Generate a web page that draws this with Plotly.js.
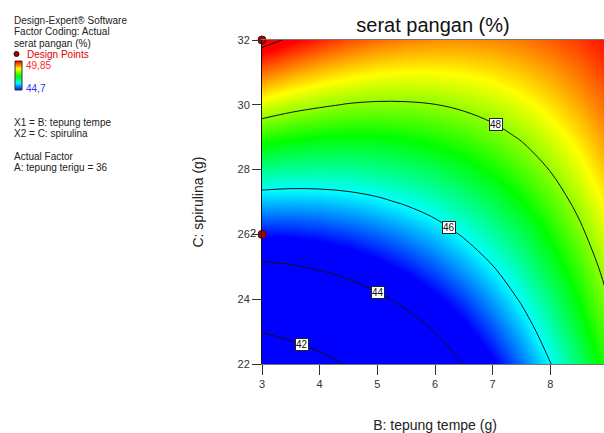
<!DOCTYPE html>
<html>
<head>
<meta charset="utf-8">
<script src="https://cdn.plot.ly/plotly-3.0.1.min.js"></script>
<style>
  html, body { margin: 0; padding: 0; background: #fff; overflow: hidden; }
  #chart { width: 608px; height: 433px; }
</style>
</head>
<body>
<div id="chart"></div>
<script>
// Factor levels of the response surface grid
const tempe = [3, 3.5, 4, 4.5, 5, 5.5, 6, 6.5, 7, 7.5, 8, 8.5, 9];   // B: tepung tempe (g)
const spirulina = [22, 23, 24, 25, 26, 27, 28, 29, 30, 31, 32];      // C: spirulina (g)

// Predicted serat pangan (%) at each grid node, one row per spirulina level
const serat22 = [41.12, 41.39, 41.70, 42.07, 42.48, 42.94, 43.46, 44.01, 44.62, 45.28, 45.98, 46.73, 47.54];
const serat23 = [42.03, 42.24, 42.50, 42.81, 43.16, 43.57, 44.02, 44.52, 45.08, 45.67, 46.32, 47.02, 47.76];
const serat24 = [42.94, 43.09, 43.29, 43.55, 43.85, 44.19, 44.59, 45.03, 45.53, 46.07, 46.66, 47.30, 47.99];
const serat25 = [43.85, 43.94, 44.09, 44.28, 44.53, 44.82, 45.16, 45.55, 45.98, 46.47, 47.00, 47.58, 48.21];
const serat26 = [44.76, 44.80, 44.88, 45.02, 45.21, 45.44, 45.72, 46.06, 46.44, 46.86, 47.34, 47.87, 48.44];
const serat27 = [45.67, 45.65, 45.68, 45.76, 45.89, 46.07, 46.29, 46.57, 46.89, 47.26, 47.68, 48.15, 48.66];
const serat28 = [46.57, 46.50, 46.48, 46.50, 46.57, 46.69, 46.86, 47.08, 47.34, 47.66, 48.02, 48.43, 48.89];
const serat29 = [47.48, 47.35, 47.27, 47.24, 47.25, 47.31, 47.43, 47.59, 47.80, 48.05, 48.36, 48.71, 49.12];
const serat30 = [48.39, 48.20, 48.07, 47.97, 47.93, 47.94, 47.99, 48.10, 48.25, 48.45, 48.70, 49.00, 49.34];
const serat31 = [49.30, 49.06, 48.86, 48.71, 48.61, 48.56, 48.56, 48.61, 48.70, 48.85, 49.04, 49.28, 49.57];
const serat32 = [50.21, 49.91, 49.66, 49.45, 49.29, 49.19, 49.13, 49.12, 49.16, 49.24, 49.38, 49.56, 49.79];

// Colour range of the response and contour levels
const colorMin = 44.7;
const colorMax = 49.85;
const contourLevels = [42, 44, 46, 48, 50];
const labeledLevels = [42, 44, 46, 48];

// Design points and their replicate counts
const designB = [3, 3];
const designC = [32, 26];
const designReps = [1, 2];

// Where each contour label box sits (B, C)
const labelB = [3.69, 5.02, 6.25, 7.05];
const labelC = [22.61, 24.21, 26.22, 29.40];

const z = [serat22, serat23, serat24, serat25, serat26, serat27,
           serat28, serat29, serat30, serat31, serat32];

// Figure geometry in pixels (paper == whole figure)
const W = 608, H = 433;
const PL = 262, PR = 608, PT = 40, PB = 364;
const px = x => x / W;
const py = y => 1 - y / H;

const FONT = 'Liberation Sans, Arial, sans-serif';
const rainbow = [
  [0.00, 'rgb(0,0,255)'],
  [0.25, 'rgb(0,255,255)'],
  [0.50, 'rgb(0,255,0)'],
  [0.75, 'rgb(255,255,0)'],
  [1.00, 'rgb(255,0,0)']
];

const fmt = v => String(v).replace('.', ',');

const surface = {
  type: 'heatmap',
  x: tempe, y: spirulina, z: z,
  zmin: colorMin, zmax: colorMax,
  zsmooth: 'best',
  colorscale: rainbow,
  showscale: false,
  hoverinfo: 'skip'
};

const contours = {
  type: 'contour',
  x: tempe, y: spirulina, z: z,
  autocontour: false,
  contours: {
    start: contourLevels[0],
    end: contourLevels[contourLevels.length - 1],
    size: contourLevels[1] - contourLevels[0],
    coloring: 'none',
    showlabels: false
  },
  line: { color: '#111', width: 1, smoothing: 1 },
  showscale: false,
  hoverinfo: 'skip'
};

const points = {
  type: 'scatter',
  mode: 'markers+text',
  x: designB, y: designC,
  text: designReps.map(r => (r > 1 ? String(r) : '')),
  textposition: 'middle left',
  textfont: { family: FONT, size: 11, color: '#222' },
  marker: { size: 8, color: '#b00000', line: { color: '#5a0000', width: 1 } },
  cliponaxis: false,
  hoverinfo: 'skip'
};

// Small vertical colour key in the side panel
const key = {
  type: 'heatmap',
  xaxis: 'x2', yaxis: 'y2',
  x: [0, 1], y: [colorMin, colorMax],
  z: [[colorMin, colorMin], [colorMax, colorMax]],
  zmin: colorMin, zmax: colorMax,
  zsmooth: 'best',
  colorscale: rainbow,
  showscale: false,
  hoverinfo: 'skip'
};

const annotations = [];
function note(text, x, y, color) {
  annotations.push({
    xref: 'paper', yref: 'paper', x: px(x), y: py(y),
    xanchor: 'left', yanchor: 'middle',
    text: text, showarrow: false,
    font: { family: FONT, size: 10, color: color || '#222' }
  });
}
note('Design-Expert® Software', 12, 20);
note('Factor Coding: Actual', 12, 31.5);
note('serat pangan (%)', 12, 43);
note('Design Points', 24.5, 54, '#e00000');
note(fmt(colorMax), 24, 65, '#ff2a2a');
note(fmt(colorMin), 24, 88.5, '#3030ff');
note('X1 = B: tepung tempe', 12, 122);
note('X2 = C: spirulina', 12, 133);
note('Actual Factor', 12, 156);
note('A: tepung terigu = 36', 12, 167);

labeledLevels.forEach((lv, i) => {
  annotations.push({
    xref: 'x', yref: 'y', x: labelB[i], y: labelC[i],
    text: String(lv), showarrow: false,
    bgcolor: '#ffffff', bordercolor: '#222', borderwidth: 1, borderpad: 0,
    font: { family: FONT, size: 10, color: '#111' }
  });
});

const layout = {
  width: W, height: H,
  margin: { l: 0, r: 0, t: 0, b: 0, autoexpand: false },
  paper_bgcolor: '#fff', plot_bgcolor: '#fff',
  showlegend: false,
  font: { family: FONT, color: '#222' },
  title: {
    text: 'serat pangan (%)',
    font: { family: FONT, size: 20, color: '#111' },
    xref: 'container', x: 433 / W, xanchor: 'center',
    yref: 'container', y: 1 - 25 / H, yanchor: 'middle'
  },
  xaxis: {
    domain: [px(PL), px(PR)],
    anchor: 'y',
    range: [3, 9], tick0: 3, dtick: 1,
    ticks: 'outside', ticklen: 10, tickcolor: '#333', tickwidth: 1,
    tickfont: { family: FONT, size: 11, color: '#333' },
    showline: true, linecolor: '#777', linewidth: 1, mirror: true,
    showgrid: false, zeroline: false,
    title: { text: 'B: tepung tempe (g)', font: { family: FONT, size: 14, color: '#222' }, standoff: 30 }
  },
  yaxis: {
    domain: [py(PB), py(PT)],
    anchor: 'x',
    range: [22, 32], tick0: 22, dtick: 2,
    ticks: 'outside', ticklen: 9, tickcolor: '#333', tickwidth: 1,
    tickfont: { family: FONT, size: 11, color: '#333' },
    showline: true, linecolor: '#111', linewidth: 1,
    showgrid: false, zeroline: false,
    title: { text: 'C: spirulina (g)', font: { family: FONT, size: 14, color: '#222' }, standoff: 30 }
  },
  xaxis2: {
    domain: [px(15), px(22)], anchor: 'y2', range: [0, 1],
    visible: false, fixedrange: true
  },
  yaxis2: {
    domain: [py(90), py(61)], anchor: 'x2', range: [colorMin, colorMax],
    visible: false, fixedrange: true
  },
  shapes: [
    {
      type: 'rect', xref: 'paper', yref: 'paper',
      x0: px(15), x1: px(22), y0: py(90), y1: py(61),
      line: { color: '#333', width: 1 }, fillcolor: 'rgba(0,0,0,0)'
    },
    {
      type: 'circle', xref: 'paper', yref: 'paper',
      x0: px(14), x1: px(19), y0: py(56.5), y1: py(51.5),
      fillcolor: '#a00000', line: { color: '#400000', width: 1 }
    }
  ],
  annotations: annotations
};

Plotly.newPlot('chart', [surface, contours, points, key], layout, { staticPlot: true, displayModeBar: false });
</script>
</body>
</html>
